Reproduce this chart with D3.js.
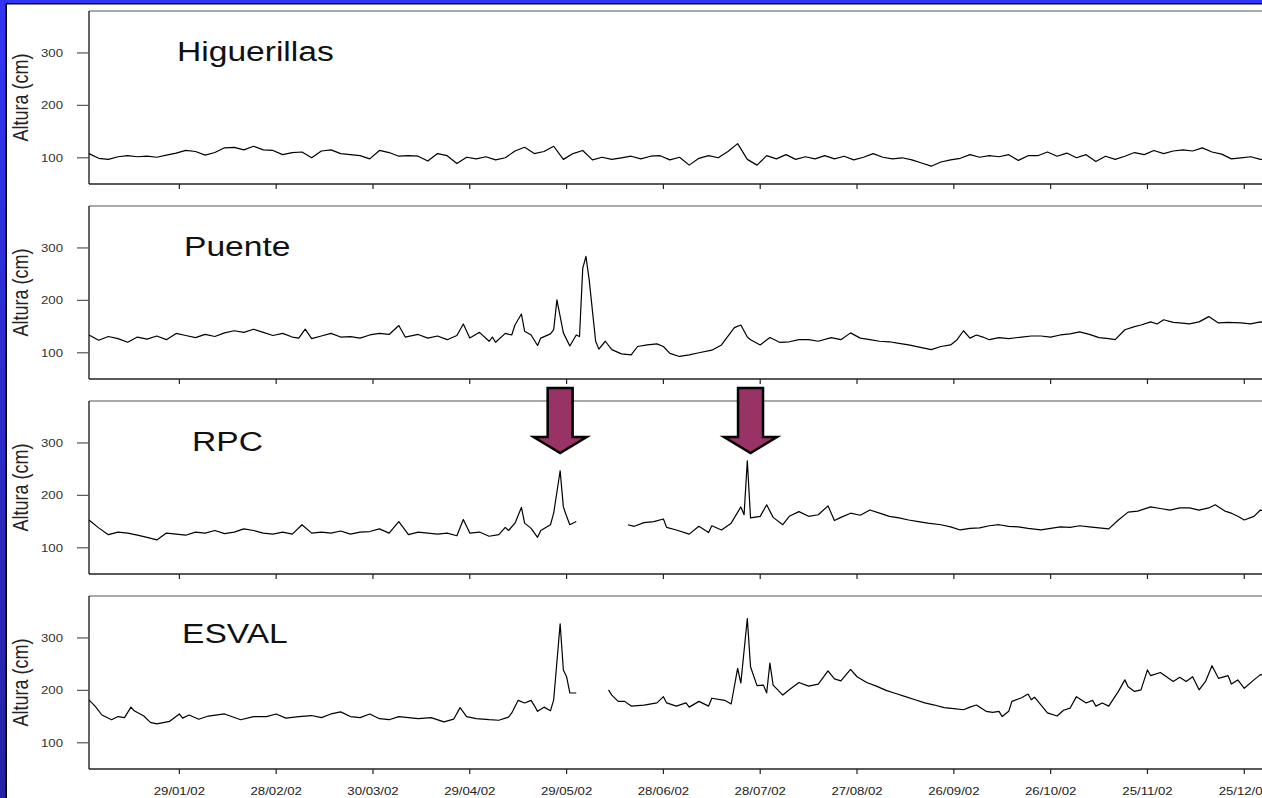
<!DOCTYPE html>
<html>
<head>
<meta charset="utf-8">
<script src="https://cdn.jsdelivr.net/npm/d3@7"></script>
<style>
  body { margin: 0; overflow: hidden; background: #fff; }
  text { font-family: Arial, 'Liberation Sans', sans-serif; }
</style>
</head>
<body>
<div id="chart"></div>
<script>
// daily water level (cm), as [day of 2002, value]; null = no data
const stations = ['Higuerillas', 'Puente', 'RPC', 'ESVAL'];

const higuerillas = [[0,108],[3,99],[6,97],[9,102],[12,104],[15,102],[18,103],[21,101],[24,105],[27,109],[30,114],[33,112],[36,105],[39,110],[42,119],[45,120],[48,115],[51,122],[54,115],[57,114],[60,106],[63,110],[66,111],[69,100],[72,113],[75,115],[78,108],[81,106],[84,104],[87,98],[90,114],[93,110],[96,103],[99,104],[102,103],[105,94],[108,108],[111,104],[114,89],[117,101],[120,98],[123,102],[126,96],[129,100],[132,113],[135,120],[138,108],[141,112],[144,122],[147,97],[150,108],[153,114],[156,96],[159,101],[162,97],[165,100],[168,103],[171,98],[174,103],[177,104],[180,96],[183,101],[186,86],[189,99],[192,104],[195,100],[198,112],[201,127],[204,97],[207,86],[210,104],[213,98],[216,106],[219,97],[222,102],[225,98],[228,104],[231,98],[234,103],[237,96],[240,101],[243,108],[246,101],[249,98],[252,100],[255,96],[258,90],[261,84],[264,92],[267,96],[270,99],[273,106],[276,101],[279,104],[282,102],[285,106],[288,95],[291,104],[294,104],[297,111],[300,103],[303,109],[306,100],[309,106],[312,93],[315,103],[318,97],[321,103],[324,110],[327,106],[330,114],[333,108],[336,113],[339,115],[342,113],[345,119],[348,111],[351,107],[354,98],[357,100],[360,102],[363,97],[365,98]];

const puente = [[0,134],[3,124],[6,131],[9,127],[12,120],[15,130],[18,126],[21,132],[24,125],[27,137],[30,133],[33,129],[36,135],[39,131],[42,138],[45,142],[48,139],[51,145],[54,139],[57,133],[60,137],[63,130],[65,128],[67,145],[69,127],[72,132],[75,137],[78,130],[81,131],[84,128],[87,134],[90,137],[93,135],[96,152],[98,130],[102,135],[105,128],[108,132],[111,125],[114,133],[116,155],[118,128],[121,139],[124,122],[125,130],[126,120],[129,137],[131,134],[132,153],[134,174],[135,141],[137,134],[139,114],[140,128],[143,136],[144,144],[145,201],[147,138],[149,113],[151,134],[152,131],[153,261],[154,284],[155,239],[157,122],[158,107],[160,122],[162,106],[165,98],[168,96],[170,112],[173,115],[176,117],[178,112],[180,99],[183,93],[186,96],[189,100],[193,105],[196,115],[199,140],[200,148],[202,153],[204,130],[205,125],[208,115],[211,129],[214,120],[217,121],[220,125],[223,125],[226,122],[230,129],[233,125],[236,138],[239,128],[242,125],[245,122],[248,121],[251,118],[254,115],[258,110],[261,106],[264,112],[267,115],[269,125],[271,142],[273,128],[275,134],[277,130],[279,125],[282,129],[285,127],[289,130],[292,132],[295,132],[298,130],[301,134],[304,136],[307,140],[310,135],[313,129],[316,127],[318,125],[321,144],[324,150],[326,153],[329,159],[331,155],[333,163],[336,158],[338,157],[341,155],[344,159],[347,169],[350,157],[353,158],[357,157],[360,155],[363,159],[365,157]];

const rpc = [[0,153],[3,138],[6,125],[9,130],[12,128],[15,124],[18,120],[21,115],[24,128],[27,126],[30,124],[33,130],[36,128],[39,133],[42,127],[45,130],[48,136],[51,133],[54,128],[57,126],[60,130],[63,126],[66,144],[69,128],[72,130],[75,128],[78,132],[81,126],[84,130],[87,131],[90,136],[93,128],[96,150],[99,125],[102,130],[105,128],[108,126],[111,128],[114,123],[116,154],[118,128],[121,130],[124,122],[127,125],[129,139],[130,133],[132,147],[134,177],[135,147],[137,137],[139,120],[140,133],[143,144],[144,166],[146,247],[147,178],[148,160],[149,144],[151,150],[155,null],[167,144],[169,141],[172,148],[175,150],[178,155],[179,139],[182,134],[186,126],[189,141],[192,129],[193,142],[196,134],[199,147],[202,178],[203,163],[204,266],[205,157],[208,160],[210,182],[212,158],[215,144],[217,160],[220,169],[223,160],[226,163],[229,180],[231,152],[233,158],[236,166],[239,162],[242,172],[245,166],[248,160],[251,157],[254,153],[257,150],[260,147],[264,144],[267,140],[270,134],[273,137],[276,138],[279,142],[282,144],[285,141],[288,140],[291,137],[295,134],[298,137],[301,140],[304,139],[307,142],[310,140],[313,138],[316,136],[319,153],[322,168],[325,170],[329,178],[332,175],[335,172],[338,176],[341,176],[344,172],[347,176],[349,182],[352,170],[354,166],[356,160],[358,153],[361,160],[363,172],[365,170]];

const esval = [[0,182],[2,169],[4,153],[7,144],[9,150],[11,148],[13,168],[14,161],[17,151],[19,139],[21,136],[25,141],[28,155],[29,147],[31,153],[34,145],[37,151],[42,155],[47,144],[51,150],[55,150],[58,155],[61,147],[65,150],[69,152],[72,148],[75,155],[78,159],[81,150],[84,148],[87,155],[90,146],[93,144],[96,150],[99,148],[102,146],[106,148],[110,140],[113,145],[115,167],[117,150],[120,146],[124,144],[127,143],[130,149],[131,157],[133,181],[135,176],[137,181],[138,171],[139,160],[141,168],[143,161],[144,182],[146,327],[147,239],[148,226],[149,195],[151,195],[155,null],[161,201],[162,191],[164,179],[166,179],[168,170],[172,172],[176,176],[178,188],[179,176],[182,170],[185,176],[186,168],[189,179],[192,170],[193,185],[197,181],[199,174],[201,242],[202,214],[204,337],[205,245],[207,209],[209,210],[210,195],[211,252],[212,210],[215,191],[217,201],[220,215],[223,208],[226,212],[229,237],[231,222],[233,218],[236,240],[238,226],[241,215],[244,208],[247,200],[250,194],[253,188],[256,182],[259,176],[262,172],[265,167],[268,165],[271,163],[273,168],[275,172],[278,160],[280,158],[282,160],[283,150],[285,160],[286,179],[289,186],[291,193],[292,182],[293,187],[297,157],[300,151],[302,162],[304,166],[306,188],[309,176],[311,181],[312,170],[314,176],[316,170],[319,198],[321,220],[322,207],[324,198],[326,201],[328,239],[329,228],[332,234],[336,217],[338,225],[340,217],[342,226],[344,201],[346,217],[348,247],[350,223],[353,228],[354,212],[356,220],[358,204],[361,220],[363,230],[365,228]];

const series = [higuerillas, puente, rpc, esval];
const xTickLabels = ['29/01/02','28/02/02','30/03/02','29/04/02','29/05/02','28/06/02','28/07/02','27/08/02','26/09/02','26/10/02','25/11/02','25/12/02'];
const yTicks = [100, 200, 300];
const arrowDates = ['27/05/02', '25/07/02'];

const W = 1262, H = 798;
const left = 89, panelH = 173, panelGap = 195, firstTop = 11;
const stretch = 1.2; // the original figure is stretched horizontally
const titleOffsets = [[88, 50], [95, 50], [103, 50], [93, 47]];

const parse = d3.timeParse('%d/%m/%y');
const start = new Date(2002, 0, 1);
const dayDate = d => d3.timeDay.offset(start, d);

const x = d3.scaleTime()
  .domain([start, new Date(2003, 0, 1)])
  .range([left, left + 365 * 3.227]);

const svg = d3.select('#chart').append('svg')
  .attr('width', W).attr('height', H);

const defs = svg.append('defs');
const grad = defs.append('linearGradient').attr('id', 'frame')
  .attr('x1', 0).attr('y1', 0).attr('x2', 0).attr('y2', 1);
grad.append('stop').attr('offset', '0%').attr('stop-color', '#3434f6');
grad.append('stop').attr('offset', '100%').attr('stop-color', '#2424a4');

svg.append('rect').attr('width', W).attr('height', H).attr('fill', 'url(#frame)');
svg.append('rect').attr('x', 5.5).attr('y', 3).attr('width', W).attr('height', H).attr('fill', '#000');
svg.append('rect').attr('x', 7).attr('y', 4.5).attr('width', W).attr('height', H).attr('fill', '#fff');

const stretchedText = (g, tx, ty, str, size, anchor) => g.append('text')
  .attr('transform', `translate(${tx},${ty}) scale(${stretch},1)`)
  .attr('text-anchor', anchor)
  .style('font-size', size + 'px')
  .text(str);

stations.forEach((name, k) => {
  const top = firstTop + k * panelGap;
  const bottom = top + panelH;
  const y = d3.scaleLinear().domain([50, 380]).range([bottom, top]);
  const g = svg.append('g');

  // frame lines
  g.append('line').attr('x1', left).attr('x2', W + 10).attr('y1', top).attr('y2', top)
    .attr('stroke', '#8c8c8c').attr('stroke-width', 1.4);
  g.append('line').attr('x1', left).attr('x2', W + 10).attr('y1', bottom).attr('y2', bottom)
    .attr('stroke', '#222').attr('stroke-width', 1.3);
  g.append('line').attr('x1', left).attr('x2', left).attr('y1', top).attr('y2', bottom)
    .attr('stroke', '#111').attr('stroke-width', 1.3);

  // y ticks
  yTicks.forEach(v => {
    g.append('line').attr('x1', left - 12).attr('x2', left).attr('y1', y(v)).attr('y2', y(v))
      .attr('stroke', '#555').attr('stroke-width', 1.2);
    stretchedText(g, 63, y(v) + 4, v, 11, 'end').style('fill', '#333');
  });

  // x ticks
  xTickLabels.forEach(t => {
    const xp = x(parse(t));
    g.append('line').attr('x1', xp).attr('x2', xp).attr('y1', bottom).attr('y2', bottom + 5)
      .attr('stroke', '#222').attr('stroke-width', 1.2);
    if (k === stations.length - 1) {
      stretchedText(g, xp, bottom + 26, t, 11, 'middle').style('fill', '#222');
    }
  });

  // y label
  g.append('text')
    .attr('transform', `translate(28,${(top + bottom) / 2}) scale(${stretch},1) rotate(-90)`)
    .attr('text-anchor', 'middle')
    .style('font-size', '18px')
    .style('fill', '#222')
    .text('Altura (cm)');

  // station name
  stretchedText(g, left + titleOffsets[k][0], top + titleOffsets[k][1], name, 28, 'start')
    .style('fill', '#111');

  const line = d3.line()
    .defined(d => d[1] !== null)
    .x(d => x(dayDate(d[0])))
    .y(d => y(d[1]));

  g.append('path')
    .datum(series[k])
    .attr('fill', 'none')
    .attr('stroke', '#000')
    .attr('stroke-width', 1.2)
    .attr('stroke-linejoin', 'round')
    .attr('d', line);
});

// arrows pointing at the two floods
const arrowTop = 388, headStart = 437, tip = 453, shaftHalf = 12.5, headHalf = 26.5;
arrowDates.forEach(t => {
  const cx = x(parse(t));
  const pts = [
    [cx - shaftHalf, arrowTop], [cx + shaftHalf, arrowTop], [cx + shaftHalf, headStart],
    [cx + headHalf, headStart], [cx, tip], [cx - headHalf, headStart], [cx - shaftHalf, headStart]
  ];
  svg.append('path')
    .attr('d', 'M' + pts.map(p => p.join(',')).join('L') + 'Z')
    .attr('fill', '#993366')
    .attr('stroke', '#000')
    .attr('stroke-width', 2.5)
    .attr('stroke-linejoin', 'miter');
});
</script>
</body>
</html>
